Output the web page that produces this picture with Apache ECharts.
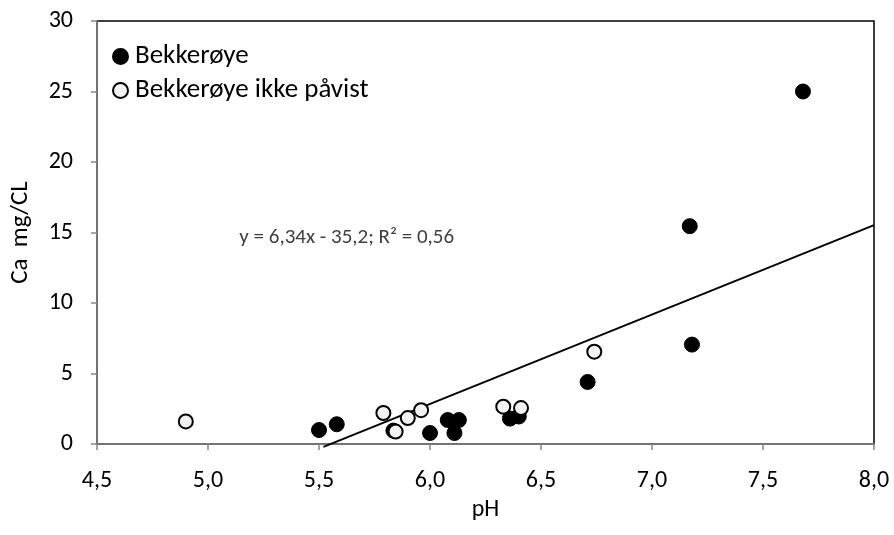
<!DOCTYPE html>
<html><head><meta charset="utf-8">
<script src="https://cdn.jsdelivr.net/npm/echarts@6/dist/echarts.min.js"></script>
<style>html,body{margin:0;padding:0;background:#fff}#c{width:894px;height:535px}</style>
</head><body><div id="c"></div>
<script>
// Data
const seriesNames = ['Bekkerøye', 'Bekkerøye ikke påvist'];
const bekkeroyePH = [5.50, 5.58, 5.835, 6.00, 6.08, 6.11, 6.13, 6.36, 6.40, 6.71, 7.17, 7.18, 7.68];
const bekkeroyeCa = [0.99, 1.40, 0.95, 0.78, 1.70, 0.78, 1.70, 1.80, 1.95, 4.40, 15.45, 7.05, 25.0];
const ikkePH = [4.90, 5.79, 5.845, 5.90, 5.96, 6.33, 6.41, 6.74];
const ikkeCa = [1.60, 2.20, 0.88, 1.84, 2.40, 2.65, 2.55, 6.55];
const trendSlope = 6.34, trendIntercept = -35.2;
const trendRange = [5.52, 8.0];
const trendLabel = 'y = 6,34x - 35,2; R² = 0,56';
const trendLabelAt = [5.625, 14.6];
const xTicks = [4.5, 5.0, 5.5, 6.0, 6.5, 7.0, 7.5, 8.0];
const yTicks = [0, 5, 10, 15, 20, 25, 30];

const FONT = 'Carlito, Lato, sans-serif';
const zip = (a, b) => a.map((v, i) => [v, b[i]]);
const trendData = trendRange.map(x => [x, trendSlope * x + trendIntercept]);

const chart = echarts.init(document.getElementById('c'), null, {renderer: 'canvas'});
chart.setOption({
  animation: false,
  backgroundColor: '#fff',
  textStyle: {fontFamily: FONT},
  grid: {left: 97, right: 20, top: 21, bottom: 91, containLabel: false, outerBoundsMode: 'none',
    show: true, borderColor: '#000', borderWidth: 1.5, backgroundColor: 'transparent'},
  legend: {
    orient: 'vertical', left: 107, top: 38, itemGap: 7,
    itemWidth: 15, itemHeight: 15,
    textStyle: {fontFamily: FONT, fontSize: 27, lineHeight: 22, color: '#000', padding: [0, 0, 0, 2]},
    data: [
      {name: seriesNames[0], icon: 'circle'},
      {name: seriesNames[1], icon: 'circle'}
    ]
  },
  xAxis: {
    type: 'value', min: 4.5, max: 8.0, interval: 0.5,
    name: 'pH', nameLocation: 'middle', nameGap: 54,
    nameTextStyle: {fontFamily: FONT, fontSize: 24, color: '#000'},
    axisLine: {show: true, onZero: false, lineStyle: {color: '#868686', width: 1.5}},
    axisTick: {show: true, inside: false, length: 6, lineStyle: {color: '#868686', width: 1.5}},
    splitLine: {show: false},
    axisLabel: {fontFamily: FONT, fontSize: 24, color: '#000', margin: 25,
      formatter: v => xTicks.includes(+v.toFixed(1)) ? v.toFixed(1).replace('.', ',') : ''}
  },
  yAxis: {
    type: 'value', min: 0, max: 30, interval: 5,
    name: 'Ca  mg/CL', nameLocation: 'middle', nameGap: 64,
    nameTextStyle: {fontFamily: FONT, fontSize: 25, color: '#000'},
    axisLine: {show: true, onZero: false, lineStyle: {color: '#868686', width: 1.5}},
    axisTick: {show: true, inside: false, length: 6, lineStyle: {color: '#868686', width: 1.5}},
    splitLine: {show: false},
    axisLabel: {fontFamily: FONT, fontSize: 24, color: '#000', margin: 24,
      formatter: v => yTicks.includes(v) ? String(v) : ''}
  },
  series: [
    {
      name: 'trend', type: 'line', data: trendData, symbol: 'none', clip: false,
      lineStyle: {color: '#000', width: 2}, silent: true, z: 2,
      markPoint: {
        symbol: 'rect', symbolSize: 1, itemStyle: {color: 'rgba(0,0,0,0)'},
        data: [{coord: trendLabelAt}],
        label: {show: true, position: 'inside', formatter: trendLabel, fontFamily: FONT, fontSize: 21, color: '#404040'}
      }
    },
    {
      name: seriesNames[0], type: 'scatter', data: zip(bekkeroyePH, bekkeroyeCa),
      symbol: 'circle', symbolSize: 15, z: 3,
      itemStyle: {color: '#000', borderColor: '#000', borderWidth: 1, opacity: 1}
    },
    {
      name: seriesNames[1], type: 'scatter', data: zip(ikkePH, ikkeCa),
      symbol: 'circle', symbolSize: 14, z: 4,
      itemStyle: {color: '#f2f2f2', borderColor: '#000', borderWidth: 2, opacity: 1}
    }
  ]
});
</script></body></html>
